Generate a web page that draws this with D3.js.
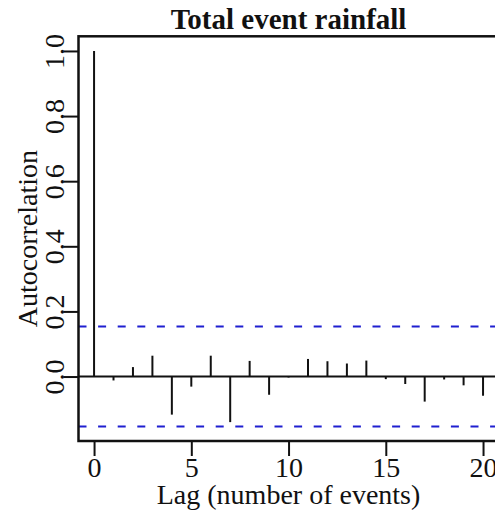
<!DOCTYPE html>
<html>
<head>
<meta charset="utf-8">
<script src="https://cdn.jsdelivr.net/npm/d3@7"></script>
<style>
  body { margin: 0; background: #fff; }
  text { font-family: "Liberation Serif", "Times New Roman", serif; fill: #111; }
</style>
</head>
<body>
<div class="chart"></div>
<script>
// acf values by lag
var lags = [0,1,2,3,4,5,6,7,8,9,10,11,12,13,14,15,16,17,18,19,20];
var acf  = [1.0,-0.012,0.029,0.064,-0.117,-0.031,0.064,-0.140,0.048,-0.056,-0.003,
            0.054,0.047,0.040,0.049,-0.008,-0.023,-0.077,-0.009,-0.027,-0.059];
var ciBand = [0.1535, -0.1535];
var xTicks = [0,5,10,15,20];
var yTicks = [0,0.2,0.4,0.6,0.8,1.0];

var width = 495, height = 513;
// plot box (right edge runs past the window, as in the original)
var plotL = 78.5, plotR = 498.6, plotT = 36.3, plotB = 441;

var svg = d3.select('.chart')
            .append('svg')
            .attr('width', width)
            .attr('height', height)
            .style('background', '#fff');

var xScale = d3.scaleLinear()
            .domain([-0.8, 20.8])
            .range([plotL, plotR]);

var yScale = d3.scaleLinear()
            .domain([-0.198, 1.045])
            .range([plotB, plotT]);

// confidence band
svg.selectAll('line.ci')
    .data(ciBand)
    .enter()
    .append('line')
    .attr('class', 'ci')
    .attr('x1', plotL).attr('x2', plotR)
    .attr('y1', function(d){ return yScale(d); })
    .attr('y2', function(d){ return yScale(d); })
    .attr('stroke', '#1f1fd0')
    .attr('stroke-width', 2)
    .attr('stroke-dasharray', '8,11.6');

// zero line
svg.append('line')
    .attr('x1', plotL).attr('x2', plotR)
    .attr('y1', yScale(0)).attr('y2', yScale(0))
    .attr('stroke', '#111').attr('stroke-width', 2);

// spikes
svg.selectAll('line.bar')
    .data(acf)
    .enter()
    .append('line')
    .attr('class', 'bar')
    .attr('x1', function(d,i){ return xScale(lags[i]); })
    .attr('x2', function(d,i){ return xScale(lags[i]); })
    .attr('y1', yScale(0))
    .attr('y2', function(d){ return yScale(d); })
    .attr('stroke', '#111')
    .attr('stroke-width', 2);

// box
svg.append('rect')
    .attr('x', plotL).attr('y', plotT)
    .attr('width', plotR - plotL).attr('height', plotB - plotT)
    .attr('fill', 'none')
    .attr('stroke', '#111')
    .attr('stroke-width', 2.5);

// x axis
var xAxis = svg.append('g')
    .attr('transform', 'translate(0,' + plotB + ')')
    .call(d3.axisBottom(xScale).tickValues(xTicks).tickSize(15).tickFormat(d3.format('d')));
xAxis.select('.domain').remove();
xAxis.selectAll('line').attr('stroke', '#111').attr('stroke-width', 2);
xAxis.selectAll('text')
    .attr('y', 36)
    .attr('dy', null)
    .style('font-family', '"Liberation Serif", serif')
    .style('font-size', '28px')
    .attr('fill', '#111');

// y axis
var yAxis = svg.append('g')
    .attr('transform', 'translate(' + plotL + ',0)')
    .call(d3.axisLeft(yScale).tickValues(yTicks).tickSize(15).tickFormat(d3.format('.1f')));
yAxis.select('.domain').remove();
yAxis.selectAll('line').attr('stroke', '#111').attr('stroke-width', 2);
yAxis.selectAll('text')
    .attr('x', null).attr('dy', null)
    .attr('text-anchor', 'middle')
    .attr('transform', 'translate(-15,0) rotate(-90)')
    .style('font-family', '"Liberation Serif", serif')
    .style('font-size', '28px')
    .attr('fill', '#111');

// title + labels
svg.append('text')
    .attr('x', (plotL + plotR) / 2)
    .attr('y', 29)
    .attr('text-anchor', 'middle')
    .style('font-weight', 'bold')
    .style('font-size', '29px')
    .text('Total event rainfall');

svg.append('text')
    .attr('x', (plotL + plotR) / 2)
    .attr('y', 504)
    .attr('text-anchor', 'middle')
    .style('font-size', '28px')
    .text('Lag (number of events)');

svg.append('text')
    .attr('transform', 'translate(37,' + ((plotT + plotB) / 2) + ') rotate(-90)')
    .attr('text-anchor', 'middle')
    .style('font-size', '28px')
    .text('Autocorrelation');
</script>
</body>
</html>
